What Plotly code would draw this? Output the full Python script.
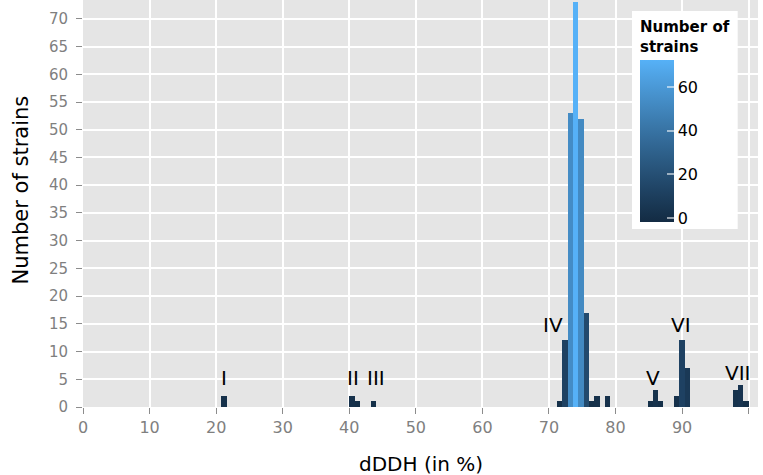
import numpy as np
import plotly.graph_objects as go

# ---- data (bin centres in % dDDH, bin width 0.8) ----
bin_centers = [21.2, 40.4, 41.2, 43.6,
               71.6, 72.4, 73.2, 74.0, 74.8, 75.6, 76.4, 77.2, 78.8,
               85.2, 86.0, 86.8,
               89.2, 90.0, 90.8,
               98.0, 98.8, 99.6]
counts = [2, 2, 1, 1,
          1, 12, 53, 73, 52, 17, 1, 2, 2,
          1, 3, 1,
          2, 12, 7,
          3, 4, 1]
bin_width = 0.8

group_labels = ["I", "II", "III", "IV", "V", "VI", "VII"]
group_x = [21.2, 40.5, 44.0, 70.6, 85.7, 89.85, 98.3]
group_y = [5.3, 5.3, 5.3, 14.8, 5.25, 14.8, 6.1]

x_ticks = list(range(0, 101, 10))
y_ticks = list(range(0, 71, 5))
cbar_ticks = [0, 20, 40, 60]

# ---- colour scale: ggplot2 default gradient, interpolated in Lab ----
def srgb_to_lab(hexc):
    rgb = np.array([int(hexc[i:i + 2], 16) for i in (1, 3, 5)]) / 255.0
    lin = np.where(rgb <= 0.04045, rgb / 12.92, ((rgb + 0.055) / 1.055) ** 2.4)
    M = np.array([[0.4124, 0.3576, 0.1805],
                  [0.2126, 0.7152, 0.0722],
                  [0.0193, 0.1192, 0.9505]])
    xyz = M @ lin / np.array([0.95047, 1.0, 1.08883])
    f = np.where(xyz > 0.008856, np.cbrt(xyz), 7.787 * xyz + 16 / 116)
    return np.array([116 * f[1] - 16, 500 * (f[0] - f[1]), 200 * (f[1] - f[2])])


def lab_to_hex(lab):
    L, a, b = lab
    fy = (L + 16) / 116
    fx = fy + a / 500
    fz = fy - b / 200
    f = np.array([fx, fy, fz])
    xyz = np.where(f ** 3 > 0.008856, f ** 3, (f - 16 / 116) / 7.787)
    xyz = xyz * np.array([0.95047, 1.0, 1.08883])
    Mi = np.array([[3.2406, -1.5372, -0.4986],
                   [-0.9689, 1.8758, 0.0415],
                   [0.0557, -0.2040, 1.0570]])
    lin = Mi @ xyz
    rgb = np.where(lin <= 0.0031308, 12.92 * lin, 1.055 * np.clip(lin, 0, None) ** (1 / 2.4) - 0.055)
    rgb = np.clip(np.round(rgb * 255), 0, 255).astype(int)
    return "#%02x%02x%02x" % tuple(rgb)


lo, hi = srgb_to_lab("#132B43"), srgb_to_lab("#56B1F7")
colorscale = [[t, lab_to_hex(lo + (hi - lo) * t)] for t in np.linspace(0, 1, 11)]

FONT = "DejaVu Sans"

fig = go.Figure()
fig.add_trace(go.Bar(
    x=bin_centers, y=counts, width=bin_width,
    marker=dict(
        color=counts, colorscale=colorscale, cmin=-1.8, cmax=72.1,
        line=dict(width=0),
        colorbar=dict(
            title=dict(text="<b>Number of<br>strains</b>", side="top",
                       font=dict(family=FONT, size=15, color="black")),
            thickness=34, thicknessmode="pixels",
            len=218, lenmode="pixels",
            x=(632 - 83) / 675, xanchor="left", xpad=8,
            y=1 - 11 / 407, yanchor="top", ypad=7,
            bgcolor="white", outlinewidth=0,
            tickvals=cbar_ticks, ticks="inside", ticklen=7,
            tickcolor="rgba(255,255,255,0.55)", tickwidth=1.5,
            tickfont=dict(family=FONT, size=16, color="black"),
        ),
    ),
    hoverinfo="x+y",
))

annotations = []
for lab, gx, gy in zip(group_labels, group_x, group_y):
    annotations.append(dict(x=gx, y=gy, xref="x", yref="y", text=lab,
                            showarrow=False, xanchor="center", yanchor="middle",
                            font=dict(family=FONT, size=20, color="black")))
annotations.append(dict(x=(420.5 - 83) / 675, y=1 - 463.5 / 407, xref="paper", yref="paper",
                        text="dDDH (in %)", showarrow=False, xanchor="center", yanchor="middle",
                        font=dict(family=FONT, size=20, color="black")))
annotations.append(dict(x=(20.5 - 83) / 675, y=1 - 190 / 407, xref="paper", yref="paper",
                        text="Number of strains", showarrow=False, textangle=-90,
                        xanchor="center", yanchor="middle",
                        font=dict(family=FONT, size=21, color="black")))

fig.update_layout(
    width=763, height=475,
    margin=dict(l=83, r=5, t=0, b=68),
    paper_bgcolor="white", plot_bgcolor="#E5E5E5",
    showlegend=False, bargap=0,
    annotations=annotations,
    xaxis=dict(range=[0, 101.4], tickvals=x_ticks, showgrid=True, gridcolor="white",
               gridwidth=1.5, zeroline=False, showline=False, ticks="outside",
               ticklen=6, tickwidth=1.3, tickcolor="#8C8C8C",
               tickfont=dict(family=FONT, size=16, color="#7F7F7F")),
    yaxis=dict(range=[0, 73.4], tickvals=y_ticks, showgrid=True, gridcolor="white",
               gridwidth=1.5, zeroline=False, showline=False, ticks="outside",
               ticklen=6, tickwidth=1.3, tickcolor="#8C8C8C", ticklabelstandoff=5,
               tickfont=dict(family=FONT, size=15, color="#7F7F7F")),
)

fig.write_html("out.html", config={"displayModeBar": False},
               post_script="document.body.style.margin='0px';document.body.style.overflow='hidden';")
